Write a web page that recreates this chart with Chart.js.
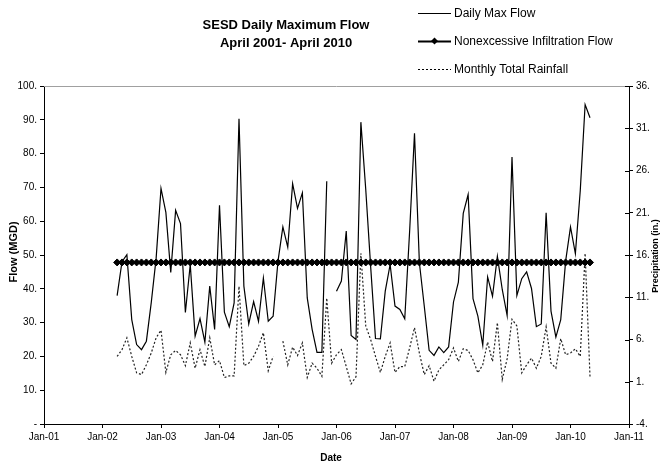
<!DOCTYPE html>
<html>
<head>
<meta charset="utf-8">
<title>SESD Daily Maximum Flow</title>
<script src="https://cdn.jsdelivr.net/npm/chart.js@4.4.1/dist/chart.umd.min.js"></script>
<style>
    html, body { margin: 0; padding: 0; background: #fff; }
    canvas { display: block; }
</style>
</head>
<body>
<canvas id="flowChart" width="665" height="466"></canvas>
<script>
// Month of each reading (first of month)
const months = [
    '2002-04', '2002-05', '2002-06', '2002-07', '2002-08', '2002-09', '2002-10', '2002-11', '2002-12',
    '2003-01', '2003-02', '2003-03', '2003-04', '2003-05', '2003-06', '2003-07', '2003-08', '2003-09', '2003-10', '2003-11', '2003-12',
    '2004-01', '2004-02', '2004-03', '2004-04', '2004-05', '2004-06', '2004-07', '2004-08', '2004-09', '2004-10', '2004-11', '2004-12',
    '2005-01', '2005-02', '2005-03', '2005-04', '2005-05', '2005-06', '2005-07', '2005-08', '2005-09', '2005-10', '2005-11', '2005-12',
    '2006-01', '2006-02', '2006-03', '2006-04', '2006-05', '2006-06', '2006-07', '2006-08', '2006-09', '2006-10', '2006-11', '2006-12',
    '2007-01', '2007-02', '2007-03', '2007-04', '2007-05', '2007-06', '2007-07', '2007-08', '2007-09', '2007-10', '2007-11', '2007-12',
    '2008-01', '2008-02', '2008-03', '2008-04', '2008-05', '2008-06', '2008-07', '2008-08', '2008-09', '2008-10', '2008-11', '2008-12',
    '2009-01', '2009-02', '2009-03', '2009-04', '2009-05', '2009-06', '2009-07', '2009-08', '2009-09', '2009-10', '2009-11', '2009-12',
    '2010-01', '2010-02', '2010-03', '2010-04', '2010-05'
];

// Daily max flow (MGD), one value per month
const dailyMaxFlow = [
    38.0, 48.0, 50.1, 30.9, 23.5, 22.0, 24.5, 35.9, 49.0,
    69.7, 62.6, 44.8, 63.2, 59.3, 33.0, 47.2, 26.0, 31.2, 24.2, 40.8, 28.0,
    64.7, 33.1, 28.8, 35.8, 90.3, 40.8, 29.6, 36.2, 30.4, 43.2, 30.4, 31.9,
    48.2, 58.3, 52.3, 71.1, 63.8, 68.4, 37.3, 28.0, 21.2, 21.2, 71.8, null,
    39.3, 42.3, 57.1, 26.2, 25.0, 89.3, 69.4, 46.7, 25.3, 25.2, 39.3, 47.2,
    34.9, 33.9, 31.1, 57.0, 86.0, 47.7, 34.9, 21.8, 20.3, 22.8, 21.1, 22.8,
    36.1, 42.0, 62.3, 67.9, 37.1, 31.9, 23.3, 43.5, 37.8, 49.6, 39.8, 32.1,
    79.0, 38.0, 43.0, 45.0, 40.1, 28.8, 29.6, 62.5, 33.4, 25.7, 30.9, 48.2,
    58.3, 50.4, 69.0, 94.5, 90.6
];

// Nonexcessive infiltration flow (MGD), same for every month
const nonexcessiveFlow = 47.8;

// Monthly total rainfall (in.), right axis
const monthlyRainfall = [
    4.0, 4.8, 6.2, 4.0, 2.05, 1.85, 3.0, 4.4, 6.2,
    7.1, 2.1, 4.2, 4.7, 4.2, 2.9, 5.6, 2.6, 4.8, 2.8, 6.2, 3.0,
    3.5, 1.5, 1.7, 1.7, 12.3, 2.9, 3.2, 4.0, 5.2, 6.8, 2.3, 4.0,
    null, 5.8, 3.0, 5.1, 4.1, 5.6, 1.5, 3.2, 2.6, 1.65, 10.9, 3.2,
    4.2, 4.8, 2.8, 0.75, 1.6, 16.2, 7.6, 6.0, 4.0, 2.1, 4.0, 5.6,
    2.1, 2.8, 2.8, 5.0, 7.4, 4.4, 1.85, 2.9, 1.06, 2.4, 3.0, 3.6,
    5.0, 3.4, 4.9, 4.7, 3.6, 2.05, 3.0, 5.7, 3.4, 8.0, 1.26, 3.7,
    8.4, 7.6, 2.05, 3.0, 3.8, 2.6, 4.0, 7.5, 3.2, 2.6, 6.1, 4.2,
    4.4, 4.9, 4.0, 16.2, 1.6
];

// Axis ticks
const dateTickLabels = ['Jan-01', 'Jan-02', 'Jan-03', 'Jan-04', 'Jan-05', 'Jan-06',
    'Jan-07', 'Jan-08', 'Jan-09', 'Jan-10', 'Jan-11'];
const flowTicks = [0, 10, 20, 30, 40, 50, 60, 70, 80, 90, 100];
const rainTicks = [-4, 1, 6, 11, 16, 21, 26, 31, 36];

const titleLines = ['SESD Daily Maximum Flow', 'April 2001- April 2010'];
const legendLabels = ['Daily Max Flow', 'Nonexcessive Infiltration Flow', 'Monthly Total Rainfall'];

const FONT = '"Liberation Sans", Arial, sans-serif';

// months since Jan 2001, used as x position
function monthIndex(ym) {
    const [y, m] = ym.split('-').map(Number);
    return (y - 2001) * 12 + (m - 1);
}

function toPoints(values) {
    return months.map((ym, i) => ({ x: monthIndex(ym), y: values[i] }));
}

/**
 * Draws title, legend, axis titles, the grey top border
 * and the inner half of the right axis tick marks
 */
const decorPlugin = {
    id: 'decor',
    afterDraw(chart) {
        const ctx = chart.ctx;
        const area = chart.chartArea;
        ctx.save();

        // grey top border of the plot area
        ctx.strokeStyle = '#a0a0a0';
        ctx.lineWidth = 1;
        ctx.beginPath();
        ctx.moveTo(area.left, area.top + 0.5);
        ctx.lineTo(area.right, area.top + 0.5);
        ctx.stroke();

        // right axis ticks cross the axis
        const y2 = chart.scales.y2;
        ctx.strokeStyle = '#000';
        ctx.beginPath();
        rainTicks.forEach(v => {
            const py = Math.round(y2.getPixelForValue(v)) + 0.5;
            ctx.moveTo(area.right - 4, py);
            ctx.lineTo(area.right, py);
        });
        ctx.stroke();

        // title
        ctx.fillStyle = '#000';
        ctx.textAlign = 'center';
        ctx.textBaseline = 'middle';
        ctx.font = 'bold 13px ' + FONT;
        ctx.fillText(titleLines[0], 286, 25);
        ctx.fillText(titleLines[1], 286, 43);

        // legend
        const rows = [13, 41, 69];
        const x0 = 418, x1 = 451;
        ctx.font = '12px ' + FONT;
        ctx.textAlign = 'left';
        rows.forEach((y, i) => {
            ctx.lineWidth = i === 1 ? 2 : 1;
            ctx.setLineDash(i === 2 ? [2, 2] : []);
            ctx.beginPath();
            ctx.moveTo(x0, y + 0.5);
            ctx.lineTo(x1, y + 0.5);
            ctx.stroke();
            ctx.setLineDash([]);
            if (i === 1) {
                const cx = (x0 + x1) / 2, r = 3.5;
                ctx.beginPath();
                ctx.moveTo(cx, y - r);
                ctx.lineTo(cx + r, y);
                ctx.lineTo(cx, y + r);
                ctx.lineTo(cx - r, y);
                ctx.closePath();
                ctx.fill();
            }
            ctx.fillText(legendLabels[i], 454, y + 1);
        });

        // axis titles
        ctx.textAlign = 'center';
        ctx.font = 'bold 10px ' + FONT;
        ctx.fillText('Date', 331, 458);

        ctx.save();
        ctx.translate(14, 252);
        ctx.rotate(-Math.PI / 2);
        ctx.font = 'bold 11px ' + FONT;
        ctx.fillText('Flow (MGD)', 0, 0);
        ctx.restore();

        ctx.save();
        ctx.translate(656, 256);
        ctx.rotate(-Math.PI / 2);
        ctx.font = 'bold 9px ' + FONT;
        ctx.fillText('Precipitation (in.)', 0, 0);
        ctx.restore();

        ctx.restore();
    }
};

const tickFont = { family: FONT, size: 10 };

new Chart(document.getElementById('flowChart'), {
    type: 'line',
    data: {
        datasets: [{
            label: legendLabels[0],
            data: toPoints(dailyMaxFlow),
            borderColor: '#000',
            borderWidth: 1.2,
            pointRadius: 0,
            spanGaps: false,
            yAxisID: 'y',
            order: 1
        }, {
            label: legendLabels[1],
            data: months.map(ym => ({ x: monthIndex(ym), y: nonexcessiveFlow })),
            borderColor: '#000',
            borderWidth: 2,
            pointStyle: 'rectRot',
            pointRadius: 3.5,
            pointBackgroundColor: '#000',
            pointBorderColor: '#000',
            pointBorderWidth: 1,
            yAxisID: 'y',
            order: 0
        }, {
            label: legendLabels[2],
            data: toPoints(monthlyRainfall),
            borderColor: '#222',
            borderWidth: 1.2,
            borderDash: [2, 2],
            pointRadius: 0,
            spanGaps: false,
            yAxisID: 'y2',
            order: 2
        }]
    },
    options: {
        responsive: false,
        animation: false,
        events: [],
        layout: { padding: { top: 86 } },
        plugins: {
            legend: { display: false },
            title: { display: false },
            tooltip: { enabled: false }
        },
        scales: {
            x: {
                type: 'linear',
                min: 0,
                max: 120,
                afterBuildTicks: s => { s.ticks = dateTickLabels.map((_, i) => ({ value: i * 12 })); },
                afterFit: s => { s.height = 42; },
                ticks: {
                    autoSkip: false,
                    maxRotation: 0,
                    padding: 3,
                    color: '#000',
                    font: tickFont,
                    callback: (v, i) => dateTickLabels[i]
                },
                grid: { drawOnChartArea: false, tickLength: 4, color: '#000' },
                border: { color: '#000' }
            },
            y: {
                position: 'left',
                min: 0,
                max: 100,
                afterBuildTicks: s => { s.ticks = flowTicks.map(v => ({ value: v })); },
                afterFit: s => { s.width = 44; },
                ticks: {
                    padding: 3,
                    color: '#000',
                    font: tickFont,
                    callback: v => (v === 0 ? '-' : v + '.')
                },
                grid: { drawOnChartArea: false, tickLength: 4, color: '#000' },
                border: { color: '#000' }
            },
            y2: {
                position: 'right',
                min: -4,
                max: 36,
                afterBuildTicks: s => { s.ticks = rainTicks.map(v => ({ value: v })); },
                afterFit: s => { s.width = 36; },
                ticks: {
                    padding: 3,
                    color: '#000',
                    font: tickFont,
                    callback: v => v + '.'
                },
                grid: { drawOnChartArea: false, tickLength: 4, color: '#000' },
                border: { color: '#000' }
            }
        }
    },
    plugins: [decorPlugin]
});
</script>
</body>
</html>
